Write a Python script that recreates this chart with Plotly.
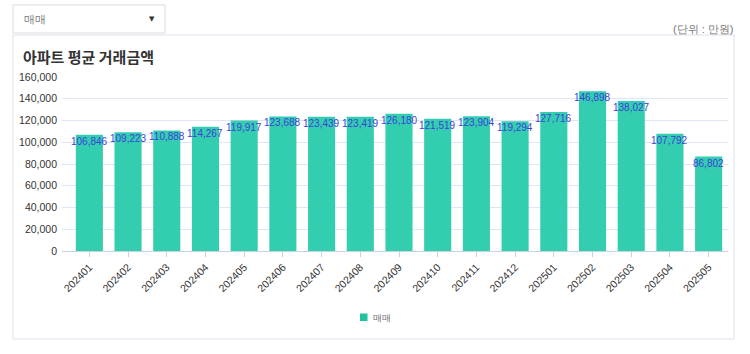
import plotly.graph_objects as go

months = ["202401", "202402", "202403", "202404", "202405", "202406", "202407",
          "202408", "202409", "202410", "202411", "202412", "202501", "202502",
          "202503", "202504", "202505"]
prices = [106846, 109223, 110888, 114267, 119917, 123688, 123439, 123419,
          126180, 121519, 123904, 119294, 127716, 146898, 138027, 107792, 86802]
series_name = "매매"
title_text = "아파트 평균 거래금액"
unit_text = "(단위 : 만원)"
dropdown_text = "매매"
y_ticks = [0, 20000, 40000, 60000, 80000, 100000, 120000, 140000, 160000]

W, H = 750, 354
L, R, T, B = 62, 22, 77, 103
PW, PH = W - L - R, H - T - B


def px(x):
    return (x - L) / PW


def py(y):
    return (H - B - y) / PH


BAR = "#33cdb0"
FONT = "Liberation Sans, Arial, sans-serif"

fig = go.Figure()
fig.add_trace(go.Bar(
    x=months, y=prices, name=series_name,
    marker=dict(color=BAR, line=dict(width=0)),
    hoverinfo="x+y", showlegend=False,
))

shapes = [
    # panel
    dict(type="rect", xref="paper", yref="paper",
         x0=px(13), x1=px(734), y0=py(339), y1=py(35),
         line=dict(color="#dbe3ee", width=1), fillcolor="rgba(0,0,0,0)", layer="below"),
    # dropdown
    dict(type="rect", xref="paper", yref="paper",
         x0=px(13), x1=px(165), y0=py(33), y1=py(5),
         line=dict(color="#dcdcdc", width=1), fillcolor="white", layer="below"),
    # legend marker
    dict(type="rect", xref="paper", yref="paper",
         x0=px(360), x1=px(367.5), y0=py(321), y1=py(313.5),
         line=dict(width=0), fillcolor="#1fc3a0"),
]

annotations = [
    dict(text=dropdown_text, xref="paper", yref="paper", x=px(22), y=py(19),
         xanchor="left", yanchor="middle", showarrow=False,
         font=dict(size=11, color="#777", family=FONT)),
    dict(text="▼", xref="paper", yref="paper", x=px(152), y=py(19),
         xanchor="center", yanchor="middle", showarrow=False,
         font=dict(size=7, color="#333", family="DejaVu Sans")),
    dict(text=unit_text, xref="paper", yref="paper", x=px(736), y=py(29),
         xanchor="right", yanchor="middle", showarrow=False,
         font=dict(size=11, color="#777", family=FONT)),
    dict(text="<b>" + title_text + "</b>", xref="paper", yref="paper", x=px(21), y=py(57),
         xanchor="left", yanchor="middle", showarrow=False,
         font=dict(size=15, color="#333", family="Noto Sans CJK KR")),
    dict(text=series_name, xref="paper", yref="paper", x=px(371), y=py(317.5),
         xanchor="left", yanchor="middle", showarrow=False,
         font=dict(size=9, color="#666", family=FONT)),
]

for i, v in enumerate(prices):
    annotations.append(dict(
        x=i, y=v, xref="x", yref="y", text=f"{v:,}", showarrow=False,
        xanchor="center", yanchor="top", yshift=1,
        font=dict(size=10, color="#4040d8", family=FONT),
    ))

fig.update_layout(
    width=W, height=H,
    margin=dict(l=L, r=R, t=T, b=B, pad=0),
    paper_bgcolor="white", plot_bgcolor="white",
    bargap=0.3,
    showlegend=False,
    shapes=shapes, annotations=annotations,
    xaxis=dict(type="category", range=[-0.5 - 8 / 38.75, 16.5],
               tickangle=-45, tickfont=dict(size=10.5, color="#333", family=FONT),
               showline=True, linecolor="#c9d2e2", linewidth=1,
               ticks="outside", ticklen=5, tickcolor="#c9d2e2",
               showgrid=False, zeroline=False),
    yaxis=dict(range=[0, 160000], tickvals=y_ticks,
               ticktext=[f"{v:,}" for v in y_ticks],
               tickfont=dict(size=10.5, color="#333", family=FONT),
               showgrid=True, gridcolor="#e0e6f1", gridwidth=1,
               zeroline=False, showline=False, ticks="", ticklabelstandoff=4),
    font=dict(family=FONT),
)

fig.write_html("out.html")
